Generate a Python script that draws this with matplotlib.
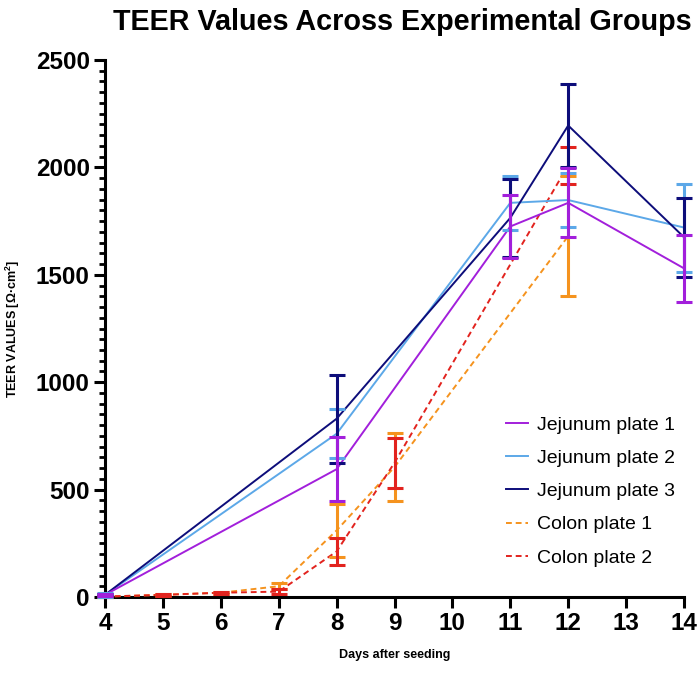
import matplotlib
matplotlib.use("Agg")
import matplotlib.pyplot as plt
from matplotlib.ticker import MultipleLocator

plt.rcParams['font.family'] = ['Liberation Sans', 'DejaVu Sans']

days_j = [4, 8, 11, 12, 14]
jej1 = [10, 595, 1725, 1835, 1530]
jej1_err = [5, 150, 145, 160, 155]
jej2 = [10, 760, 1835, 1848, 1720]
jej2_err = [8, 115, 125, 125, 205]
jej3 = [10, 830, 1765, 2195, 1675]
jej3_err = [5, 205, 180, 195, 183]

days_c = [4, 5, 6, 7, 8, 9, 12]
col1 = [2, 10, 20, 50, 310, 605, 1680]
col1_err = [2, 4, 5, 15, 125, 158, 280]
days_c2 = [4, 5, 6, 7, 8, 9, 12]
col2 = [2, 10, 20, 25, 212, 625, 2010]
col2_err = [2, 4, 5, 10, 65, 117, 85]

labels = ["Jejunum plate 1", "Jejunum plate 2", "Jejunum plate 3", "Colon plate 1", "Colon plate 2"]
colors = ["#A21FDB", "#5CA8E8", "#0D0D7A", "#F5931E", "#E2231E"]

fig = plt.figure(figsize=(6.98, 6.74), dpi=100)
ax = fig.add_axes([105/698, 1-597/674, (684-105)/698, (597-60)/674])

series = [
    (days_j, jej1, jej1_err, '-'),
    (days_j, jej2, jej2_err, '-'),
    (days_j, jej3, jej3_err, '-'),
    (days_c, col1, col1_err, (0, (3, 2))),
    (days_c2, col2, col2_err, (0, (3, 2))),
]
order = [3, 4, 1, 2, 0]
for i in order:
    x, y, e, ls = series[i]
    ax.plot(x, y, color=colors[i], ls=ls, lw=1.4, clip_on=False, zorder=3)
    ax.errorbar(x, y, yerr=e, fmt='none', ecolor=colors[i], elinewidth=2.2,
                capsize=6, capthick=2.2, clip_on=False, zorder=4)

handles = [plt.Line2D([], [], color=colors[i], lw=1.4, ls=series[i][3]) for i in range(5)]
ax.legend(handles, labels, loc='upper left', bbox_to_anchor=(0.679, 0.351),
          frameon=False, fontsize=14, handlelength=1.15, handletextpad=0.47,
          labelspacing=0.8, borderaxespad=0)

ax.set_xlim(4, 14)
ax.set_ylim(0, 2500)
ax.set_xticks(range(4, 15))
ax.set_yticks([0, 500, 1000, 1500, 2000, 2500])
ax.yaxis.set_minor_locator(MultipleLocator(50))
for s in ['top', 'right']:
    ax.spines[s].set_visible(False)
for s in ['left', 'bottom']:
    ax.spines[s].set_linewidth(2.2)
ax.tick_params(axis='both', which='major', width=2.2, length=8, labelsize=17.5, pad=3)
ax.tick_params(axis='y', which='minor', width=2.0, length=4.5)
for lab in ax.get_xticklabels() + ax.get_yticklabels():
    lab.set_fontweight('bold')

ax.set_xlabel("Days after seeding", fontsize=9, fontweight='bold', labelpad=10)
ax.set_ylabel("TEER VALUES [Ω·cm$^\\mathregular{2}$]", fontsize=9, fontweight='bold', labelpad=10)
fig.text(402/698, 1-22/674, "TEER Values Across Experimental Groups", ha='center', va='center',
         fontsize=20.7, fontweight='bold')

fig.savefig("out.png", dpi=100)
